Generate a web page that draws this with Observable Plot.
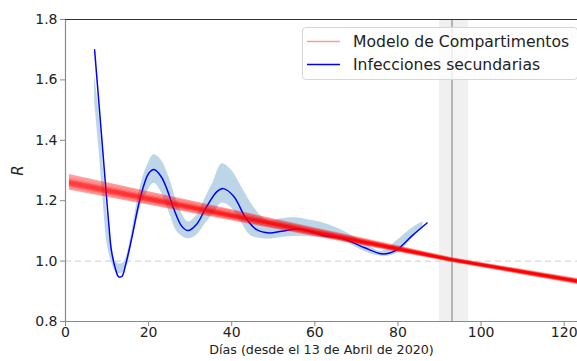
<!DOCTYPE html>
<html>
<head>
<meta charset="utf-8">
<script src="https://cdn.jsdelivr.net/npm/d3@7"></script>
<script src="https://cdn.jsdelivr.net/npm/@observablehq/plot@0.6"></script>
<style>
  html, body { margin: 0; padding: 0; background: #fff; }
  #wrap { position: relative; width: 577px; height: 361px; font-family: "DejaVu Sans", sans-serif; }
  #legend { position: absolute; left: 302px; top: 27px; width: 276px; height: 53px; box-sizing: border-box;
    border: 1px solid #d6d6d6; border-radius: 4px; background: rgba(255,255,255,0.8); }
  #legend svg { position: absolute; left: 0; top: 0; }
</style>
</head>
<body>
<div id="wrap">
  <div id="chart"></div>
  <div id="legend"></div>
</div>
<script>
// ---- data ----
const xTicks = [0, 20, 40, 60, 80, 100, 120];
const yTicks = [0.8, 1.0, 1.2, 1.4, 1.6, 1.8];
const xDomain = [0, 123.2];
const yDomain = [0.8, 1.8];
const xLabel = "Días (desde el 13 de Abril de 2020)";
const yLabel = "R";
const legendLabels = ["Modelo de Compartimentos", "Infecciones secundarias"];

// secondary infections (blue line)
const blueDays = [7, 8, 9, 10, 10.5, 11, 12, 12.8, 13.6, 14.5, 16, 18, 20, 21.3, 23, 24.5, 26, 28, 29.5, 31.5, 34, 36.5, 38, 40.5, 43.5, 46, 49, 52, 56, 59, 62, 67, 72, 76, 78, 80, 83.5, 87];
const blueR = [1.70, 1.53, 1.36, 1.19, 1.11, 1.04, 0.975, 0.948, 0.950, 0.99, 1.08, 1.21, 1.29, 1.303, 1.28, 1.235, 1.175, 1.115, 1.101, 1.121, 1.181, 1.231, 1.240, 1.214, 1.14, 1.104, 1.093, 1.099, 1.106, 1.098, 1.085, 1.073, 1.044, 1.024, 1.027, 1.040, 1.085, 1.126];

// uncertainty band
const bandDays = [7, 8, 9, 10, 11, 12, 13, 14, 15, 16, 18, 19.5, 21.3, 23, 25, 27, 29.5, 31.5, 33.5, 35.5, 37.7, 40, 42, 44.5, 47, 49.3, 52, 56, 59, 62, 67, 72, 76, 80, 83.5, 86];
const bandLow = [1.53, 1.38, 1.21, 1.06, 1.00, 0.965, 0.958, 0.962, 0.99, 1.06, 1.175, 1.225, 1.258, 1.23, 1.16, 1.095, 1.074, 1.085, 1.12, 1.155, 1.192, 1.175, 1.135, 1.085, 1.075, 1.073, 1.078, 1.082, 1.080, 1.077, 1.065, 1.032, 1.016, 1.027, 1.077, 1.11];
const bandHigh = [1.62, 1.50, 1.33, 1.16, 1.06, 1.00, 0.99, 0.995, 1.03, 1.10, 1.245, 1.31, 1.352, 1.335, 1.275, 1.19, 1.13, 1.15, 1.205, 1.26, 1.322, 1.30, 1.255, 1.195, 1.15, 1.132, 1.14, 1.143, 1.135, 1.126, 1.099, 1.061, 1.032, 1.071, 1.110, 1.13];

// compartment model ensemble (red lines), values at modelDays
const modelDays = [1, 93, 126];
const modelAtDay1   = [1.285, 1.279, 1.274, 1.270, 1.267, 1.265, 1.263, 1.261, 1.259, 1.257, 1.255, 1.253, 1.251, 1.248, 1.244, 1.239];
const modelAtDay93  = [1.010, 1.008, 1.007, 1.006, 1.006, 1.005, 1.005, 1.005, 1.004, 1.004, 1.004, 1.003, 1.003, 1.002, 1.001, 1.000];
const modelAtDay126 = [0.934, 0.932, 0.930, 0.929, 0.929, 0.928, 0.928, 0.927, 0.927, 0.926, 0.926, 0.925, 0.925, 0.924, 0.922, 0.920];

// reference window
const windowStart = 90, windowEnd = 97, windowDay = 93;
const threshold = 1.0;

// ---- build tables ----
const blue = blueDays.map((d, i) => ({day: d, r: blueR[i]}));
const band = bandDays.map((d, i) => ({day: d, lo: bandLow[i], hi: bandHigh[i]}));
const model = modelAtDay1.flatMap((v, k) =>
  [modelAtDay1[k], modelAtDay93[k], modelAtDay126[k]].map((r, j) => ({member: k, day: modelDays[j], r})));

const chart = Plot.plot({
  width: 577,
  height: 361,
  marginLeft: 65,
  marginRight: 0,
  marginTop: 19,
  marginBottom: 40,
  style: {fontFamily: "DejaVu Sans, sans-serif", fontSize: "14px", background: "white", overflow: "visible"},
  x: {domain: xDomain},
  y: {domain: yDomain},
  marks: [
    Plot.rect([{x1: windowStart, x2: windowEnd}], {x1: "x1", x2: "x2", fill: "#808080", fillOpacity: 0.12}),
    Plot.ruleY([threshold], {stroke: "#d8d8d8", strokeWidth: 1.3, strokeDasharray: "6,4"}),
    Plot.areaY(band, {x: "day", y1: "lo", y2: "hi", fill: "rgb(188,214,232)", curve: "catmull-rom"}),
    Plot.ruleX([windowDay], {stroke: "#7a7a7a", strokeWidth: 1}),
    Plot.line(blue, {x: "day", y: "r", stroke: "#0000ff", strokeWidth: 1.5, curve: "catmull-rom"}),
    Plot.line(model, {x: "day", y: "r", z: "member", stroke: "red", strokeOpacity: 0.38, strokeWidth: 1.8, clip: true}),
    Plot.ruleX([xDomain[0]], {stroke: "#8a8a8a", strokeWidth: 1.2}),
    Plot.ruleY([yDomain[0]], {stroke: "#8a8a8a", strokeWidth: 1.2}),
    Plot.ruleY([yDomain[1]], {stroke: "#333", strokeWidth: 1}),
    Plot.axisY({ticks: yTicks, tickFormat: d3.format(".1f"), tickSize: 5, tickPadding: 3, stroke: "#8a8a8a", fill: "#222", fontSize: 14, label: null}),
    Plot.axisX({ticks: xTicks, tickFormat: d3.format("d"), tickSize: 5, tickPadding: 1, stroke: "#8a8a8a", fill: "#222", fontSize: 14, label: null}),
    Plot.text([xLabel], {text: d => d, frameAnchor: "bottom", dy: 32, fontSize: 12.7, fill: "#222"}),
    Plot.text([yLabel], {text: d => d, frameAnchor: "left", dx: -47, rotate: -90, fontStyle: "italic", fontSize: 15, fill: "#222", textAnchor: "middle"})
  ]
});
document.getElementById("chart").appendChild(chart);

// legend
const legendColors = ["#ff9a9a", "#0000ff"];
const legendRowsY = [13.5, 36.5];
const svg = d3.select("#legend").append("svg").attr("width", 276).attr("height", 53);
legendLabels.forEach((t, i) => {
  svg.append("line").attr("x1", 4).attr("x2", 37).attr("y1", legendRowsY[i]).attr("y2", legendRowsY[i])
    .attr("stroke", legendColors[i]).attr("stroke-width", 1.3);
  svg.append("text").attr("x", 50).attr("y", legendRowsY[i]).attr("dy", "0.35em")
    .attr("font-family", "DejaVu Sans, sans-serif").attr("font-size", 15.6).attr("fill", "#222").text(t);
});
</script>
</body>
</html>
